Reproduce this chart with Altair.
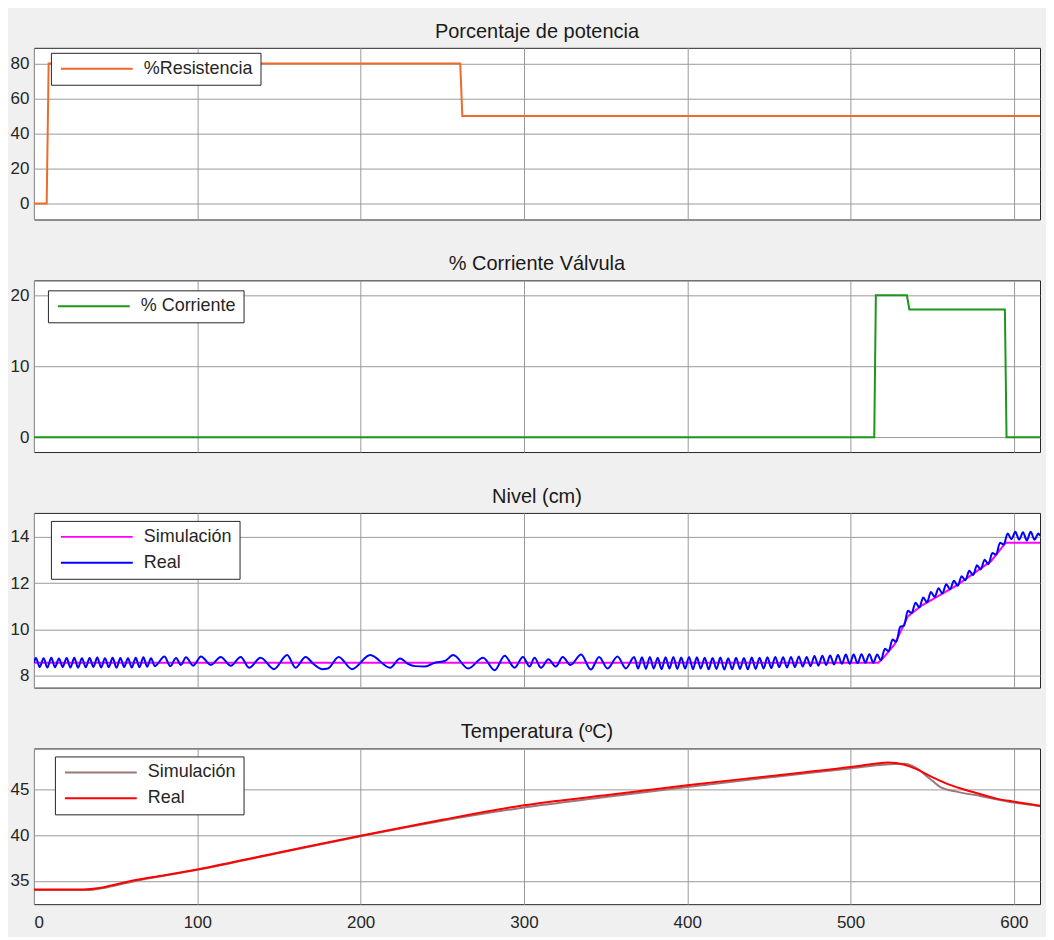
import altair as alt
import pandas as pd

X_MAX = 616
x_ticks = [0, 100, 200, 300, 400, 500, 600]

# Panel 1: Porcentaje de potencia
pot_t = [0, 7.8, 9.0, 261.0, 262.3, 616]
pot_v = [0, 0, 80, 80, 50, 50]

# Panel 2: % Corriente Válvula
corr_t = [0, 514.5, 515.5, 534.5, 536.0, 594.5, 595.5, 616]
corr_v = [0, 0, 20, 20, 18, 18, 0, 0]

# Panel 3: Nivel (cm)
nivel_sim = [(0, 8.55), (517, 8.55), (520, 8.75), (527, 9.35), (535, 10.55), (543, 11.0),
             (565, 11.9), (586, 12.95), (595, 13.75), (616, 13.75)]

nivel_real = [
    (0, 8.55), (1.2, 8.75), (3.5, 8.36), (5.9, 8.74), (8.2, 8.34), (10.6, 8.76), (12.9, 8.35),
    (15.3, 8.73), (17.6, 8.36), (20.0, 8.75), (22.3, 8.34), (24.7, 8.76), (27.0, 8.33),
    (29.4, 8.74), (31.7, 8.35), (34.1, 8.75), (36.4, 8.36), (38.8, 8.77), (41.1, 8.34),
    (43.5, 8.74), (45.8, 8.35), (48.2, 8.76), (50.5, 8.33), (52.9, 8.75), (55.2, 8.36),
    (57.6, 8.74), (59.9, 8.34), (62.3, 8.76), (64.6, 8.35), (67.0, 8.78), (69.3, 8.37),
    (71.7, 8.74), (74.0, 8.40),
    (79.9, 8.82), (83.5, 8.40), (87.0, 8.75), (90.0, 8.45), (93.1, 8.78), (97.5, 8.42),
    (102.3, 8.82), (108.3, 8.45), (114.4, 8.80), (120.5, 8.42), (126.6, 8.80), (131.7, 8.33),
    (138.8, 8.76), (147.0, 8.27), (155.0, 8.88), (160.2, 8.33), (166.3, 8.80), (171.0, 8.50),
    (176.4, 8.27), (180.0, 8.30), (186.6, 8.80), (194.7, 8.27), (205.9, 8.88),
    (218.1, 8.33), (224.2, 8.73), (229.0, 8.50), (233.4, 8.40), (239.5, 8.38), (245.5, 8.55),
    (251.6, 8.62), (256.7, 8.88), (265.9, 8.30), (275.0, 8.76), (282.1, 8.22), (288.2, 8.85),
    (294.3, 8.33), (299.4, 8.80), (303.5, 8.38), (306.5, 8.76), (310.5, 8.33),
    (315.0, 8.70), (319.5, 8.38), (323.8, 8.80), (328.5, 8.45), (335.0, 8.90), (341.0, 8.25),
    (346.0, 8.80), (351.2, 8.30), (357.3, 8.82), (362.4, 8.30), (367.5, 8.80),
    (369.9, 8.30), (372.3, 8.78), (374.7, 8.28), (377.1, 8.80), (379.5, 8.30), (381.9, 8.76),
    (384.3, 8.27), (386.7, 8.78), (389.1, 8.30), (391.5, 8.80), (393.9, 8.28), (396.3, 8.77),
    (398.7, 8.30), (401.1, 8.80), (403.5, 8.27), (405.9, 8.78), (408.3, 8.30), (410.7, 8.76),
    (413.1, 8.26), (415.5, 8.75), (417.9, 8.28), (420.3, 8.77), (422.7, 8.25), (425.1, 8.74),
    (427.5, 8.27), (429.9, 8.76), (432.3, 8.28), (434.7, 8.75), (437.1, 8.26), (439.5, 8.77),
    (441.9, 8.28), (444.3, 8.76), (446.7, 8.30), (449.1, 8.78), (451.5, 8.32), (453.9, 8.80),
    (456.3, 8.35), (458.7, 8.78), (461.1, 8.34), (463.5, 8.80), (465.9, 8.36), (468.3, 8.82),
    (470.7, 8.38), (473.1, 8.80), (475.5, 8.40), (477.9, 8.84), (480.3, 8.42), (482.7, 8.85),
    (485.1, 8.45), (487.5, 8.86), (489.9, 8.47), (492.3, 8.88), (494.7, 8.50), (497.1, 8.90),
    (499.5, 8.50), (501.9, 8.90), (504.3, 8.52), (506.7, 8.92), (509.1, 8.55), (511.5, 8.92),
    (513.9, 8.55), (516.3, 8.90),
    (518.6, 8.65), (521.0, 9.15), (523.3, 9.05), (525.7, 9.55), (528.0, 9.45), (530.4, 10.10),
    (532.7, 10.15), (535.1, 10.80), (537.4, 10.70), (539.8, 11.15), (542.1, 10.95),
    (544.5, 11.37), (546.8, 11.17), (549.2, 11.61), (551.5, 11.40), (553.9, 11.77),
    (556.2, 11.55), (558.6, 11.95), (560.9, 11.73), (563.3, 12.10), (565.6, 11.88),
    (568.0, 12.30), (570.3, 12.12), (572.7, 12.53), (575.0, 12.35), (577.4, 12.77),
    (579.7, 12.59), (582.1, 13.01), (584.4, 12.82), (586.8, 13.30), (589.1, 13.23),
    (591.5, 13.75), (593.8, 13.67), (596.2, 14.15), (598.5, 13.90), (600.9, 14.22),
    (603.2, 13.88), (605.6, 14.20), (607.9, 13.85), (610.3, 14.22), (612.6, 13.88),
    (615.0, 14.15), (616.0, 14.05),
]

# Panel 4: Temperatura (ºC)
temp_sim = [(0, 34.0), (35, 34.0), (45, 34.3), (60, 34.9), (100, 36.2), (150, 38.05),
            (200, 39.9), (250, 41.6), (300, 43.05), (350, 44.2), (400, 45.3), (450, 46.35),
            (500, 47.35), (520, 47.75), (533, 47.85), (540, 47.4), (548, 46.3), (555, 45.3),
            (565, 44.8), (580, 44.3), (600, 43.6), (616, 43.2)]
temp_real = [(0, 34.05), (30, 34.05), (40, 34.2), (50, 34.6), (60, 35.0), (80, 35.6),
             (100, 36.25), (150, 38.1), (200, 39.95), (250, 41.7), (280, 42.7), (300, 43.3),
             (350, 44.4), (400, 45.5), (450, 46.5), (500, 47.5), (515, 47.85), (523, 48.0),
             (533, 47.75), (540, 47.3), (550, 46.4), (560, 45.6), (575, 44.75), (590, 44.0),
             (600, 43.7), (616, 43.25)]

FONT = "Liberation Sans"
TXT = "#262626"
# wide horizontal stroke used as the legend line sample
LEG_PATH = "M-1,0H11"


def frame(pairs, name):
    return pd.DataFrame({"t": [p[0] for p in pairs], "v": [p[1] for p in pairs], "serie": name})


def panel(frames, names, colors, title, ydom, yticks, height, lx, ly, show_x=False, smooth=()):
    xax = alt.Axis(values=x_ticks, labels=show_x, ticks=False, domain=False, grid=True,
                   title=None, labelPadding=10, labelFontSize=17, labelFont=FONT, labelColor=TXT)
    yax = alt.Axis(values=yticks, ticks=False, domain=False, grid=True, title=None,
                   labelPadding=5, labelFontSize=17, labelFont=FONT, labelColor=TXT)
    cscale = alt.Scale(domain=names, range=colors)
    leg = alt.Legend(orient="none", legendX=lx, legendY=ly, title=None, strokeColor="#262626",
                     fillColor="white", padding=7, labelFontSize=18, labelFont=FONT,
                     labelColor=TXT, symbolType=LEG_PATH, symbolSize=144, symbolStrokeWidth=2,
                     labelOffset=68, rowPadding=8, labelLimit=400, cornerRadius=0)
    layers = []
    for i, df in enumerate(frames):
        interp = "monotone" if i in smooth else "linear"
        layers.append(
            alt.Chart(df).mark_line(strokeWidth=2, clip=True, interpolate=interp).encode(
                x=alt.X("t:Q", scale=alt.Scale(domain=[0, X_MAX], nice=False, zero=False), axis=xax),
                y=alt.Y("v:Q", scale=alt.Scale(domain=ydom, nice=False, zero=False), axis=yax),
                color=alt.Color("serie:N", scale=cscale, legend=leg),
            )
        )
    return alt.layer(*layers).properties(
        width=1008, height=height,
        title=alt.TitleParams(title, fontSize=20, font=FONT, fontWeight="normal", color="#1a1a1a",
                              offset=6, anchor="middle"),
    )


p1 = panel([frame(list(zip(pot_t, pot_v)), "%Resistencia")], ["%Resistencia"], ["#EE6A2A"],
           "Porcentaje de potencia", [-9.2, 89], [0, 20, 40, 60, 80], 172, 17, 5)
p2 = panel([frame(list(zip(corr_t, corr_v)), "% Corriente")], ["% Corriente"], ["#1E961E"],
           "% Corriente Válvula", [-2.1, 22.1], [0, 10, 20], 172, 14, 10)
p3 = panel([frame(nivel_sim, "Simulación"), frame(nivel_real, "Real")], ["Simulación", "Real"],
           ["#FF00FF", "#0000FF"], "Nivel (cm)", [7.47, 15.04], [8, 10, 12, 14], 175, 17, 8,
           smooth=(1,))
p4 = panel([frame(temp_sim, "Simulación"), frame(temp_real, "Real")], ["Simulación", "Real"],
           ["#9A7878", "#FF0000"], "Temperatura (ºC)", [32.43, 49.54], [35, 40, 45], 156, 21, 8,
           show_x=True, smooth=(0, 1))

chart = alt.vconcat(p1, p2, p3, p4, spacing=33).resolve_scale(color="independent").resolve_legend(
    color="independent"
).configure_view(stroke="#262626", strokeWidth=1, fill="white").configure_axis(
    gridColor="#9a9a9a", gridOpacity=1, gridWidth=1
).properties(
    background="#f0f0f0", padding={"left": 1, "top": 12, "right": 5, "bottom": 5}
)

chart.save("out.html", embed_options={"renderer": "svg", "actions": False})
